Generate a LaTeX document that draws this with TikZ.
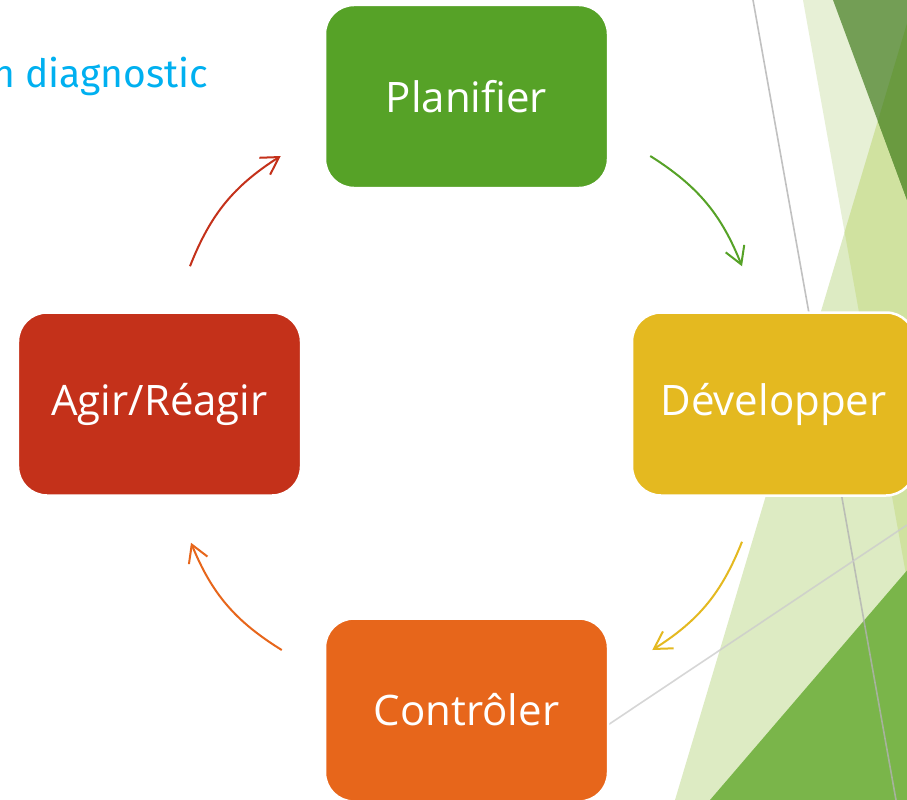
\documentclass[tikz,border=0pt]{standalone}
\usepackage{fontspec}
\newfontfamily\boxfont{Open Sans}
\newfontfamily\titlefont{Fira Sans}
\usepackage{tikz}
\usetikzlibrary{arrows.meta, positioning}

\definecolor{planG}{HTML}{56A227}
\definecolor{devY}{HTML}{E4B920}
\definecolor{ctrlO}{HTML}{E7661B}
\definecolor{agirR}{HTML}{C4311A}
\definecolor{titleC}{HTML}{00B0F0}
\definecolor{facetA}{HTML}{E7F0D6}
\definecolor{facetB}{HTML}{DDEBC3}
\definecolor{facetAB}{HTML}{D0E2A0}
\definecolor{facetC}{HTML}{739E55}
\definecolor{facetBC}{HTML}{6A9A40}
\definecolor{facetD}{HTML}{7AB54A}

\begin{document}
\begin{tikzpicture}[
  x=1bp, y=1bp,
  step box/.style={draw=white,line width=2.5bp,rounded corners=29bp,text=white,
    minimum width=283bp,minimum height=183bp,
    font=\boxfont\fontsize{42bp}{48bp}\selectfont},
  cyc/.style={->,line width=2bp,draw=#1,>={Straight Barb[length=17bp,width=20bp]}},
  facet/.style={fill=#1,draw=none}
]

% ----- Fond ---------------------------------------------------------------
\useasboundingbox (0,0) rectangle (907,-800);
\fill[white] (0,0) rectangle (907,-800);

\fill[facet=facetA] (803,0) -- (940,0) -- (940,-650) -- (907,-580) -- cycle;
\fill[facet=facetB] (675,-800) -- (914,0) -- (940,0) -- (940,-800) -- cycle;
\begin{scope}
  \clip (803,0) -- (940,0) -- (940,-650) -- (907,-580) -- cycle;
  \fill[facet=facetAB] (675,-800) -- (914,0) -- (940,0) -- (940,-800) -- cycle;
\end{scope}
\fill[facet=facetC] (833,0) -- (940,0) -- (940,-289) -- cycle;
\begin{scope}
  \clip (833,0) -- (940,0) -- (940,-289) -- cycle;
  \fill[facet=facetBC] (675,-800) -- (914,0) -- (940,0) -- (940,-800) -- cycle;
\end{scope}
\fill[facet=facetD] (710,-800) -- (940,-532) -- (940,-800) -- cycle;

\draw[black!30,line width=1.6bp,opacity=0.8] (753,0) -- (896,-800);
\draw[black!20,line width=1.6bp,opacity=0.8] (560,-757) -- (907,-525);

% ----- Titre --------------------------------------------------------------
\node[anchor=base west,inner sep=0,text=titleC,
  font=\titlefont\fontsize{39bp}{46bp}\selectfont] (title) at (-8,-88) {n diagnostic};

% ----- Etapes -------------------------------------------------------------
\node[step box,fill=planG] (plan) at (466.5,-96.5) {Planifier};
\node[step box,fill=devY]  (dev)  at (773.5,-404) {Développer};
\node[step box,fill=ctrlO,below=428bp of plan] (ctrl) {Contrôler};
\node[step box,fill=agirR] (agir) at (159.5,-404) {Agir/Réagir};

% ----- Flèches du cycle ---------------------------------------------------
\draw[cyc=agirR] ([xshift=30.5bp,yshift=45bp]agir.north) to[bend left=18] ([xshift=-43bp,yshift=-59.5bp]plan.west);
\draw[cyc=planG] ([xshift=41bp,yshift=-59.5bp]plan.east) to[bend left=18] ([xshift=-31.5bp,yshift=45bp]dev.north);
\draw[cyc=devY]  ([xshift=-31.5bp,yshift=-45bp]dev.south) to[bend left=18] ([xshift=43bp,yshift=60bp]ctrl.east);
\draw[cyc=ctrlO] ([xshift=-42bp,yshift=60bp]ctrl.west) to[bend left=18] ([xshift=31.5bp,yshift=-46bp]agir.south);

\end{tikzpicture}
\end{document}
